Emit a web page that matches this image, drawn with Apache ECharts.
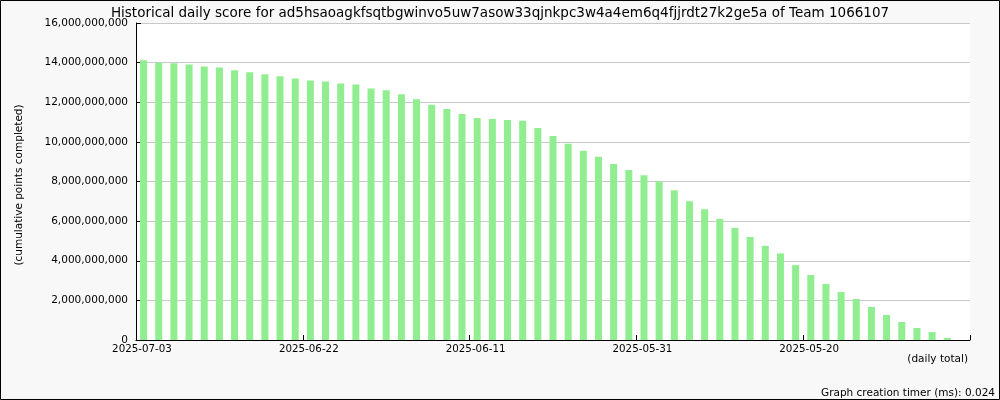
<!DOCTYPE html>
<html>
<head>
<meta charset="utf-8">
<script src="https://cdn.jsdelivr.net/npm/echarts@6/dist/echarts.min.js"></script>
<style>
html,body{margin:0;padding:0;background:#f8f8f8;}
#chart{width:1000px;height:400px;}
</style>
</head>
<body>
<div id="chart"></div>
<script>
// Dates (one per bar, newest first)
var dates = [
"2025-07-03","2025-07-02","2025-07-01","2025-06-30","2025-06-29","2025-06-28","2025-06-27","2025-06-26","2025-06-25","2025-06-24",
"2025-06-23","2025-06-22","2025-06-21","2025-06-20","2025-06-19","2025-06-18","2025-06-17","2025-06-16","2025-06-15","2025-06-14",
"2025-06-13","2025-06-12","2025-06-11","2025-06-10","2025-06-09","2025-06-08","2025-06-07","2025-06-06","2025-06-05","2025-06-04",
"2025-06-03","2025-06-02","2025-06-01","2025-05-31","2025-05-30","2025-05-29","2025-05-28","2025-05-27","2025-05-26","2025-05-25",
"2025-05-24","2025-05-23","2025-05-22","2025-05-21","2025-05-20","2025-05-19","2025-05-18","2025-05-17","2025-05-16","2025-05-15",
"2025-05-14","2025-05-13","2025-05-12","2025-05-11","2025-05-10"
];
// Cumulative score (billions of points)
var scoresB = [
14.12,14.00,13.97,13.91,13.81,13.76,13.61,13.51,13.41,13.31,
13.20,13.10,13.05,12.95,12.90,12.70,12.60,12.40,12.15,11.88,
11.66,11.41,11.21,11.16,11.11,11.06,10.70,10.30,9.90,9.55,
9.25,8.88,8.58,8.32,8.00,7.56,7.00,6.60,6.11,5.66,
5.20,4.75,4.37,3.78,3.28,2.83,2.42,2.07,1.67,1.26,
0.91,0.61,0.40,0.10,0
];
var yTicks = [0,2e9,4e9,6e9,8e9,10e9,12e9,14e9,16e9];
var labelEvery = 11;
var titleText = "Historical daily score for ad5hsaoagkfsqtbgwinvo5uw7asow33qjnkpc3w4a4em6q4fjjrdt27k2ge5a of Team 1066107";

var barData = scoresB.map(function(v,i){ return [i + 0.5, v * 1e9]; });
var FONT = "DejaVu Sans";

var chart = echarts.init(document.getElementById('chart'), null, {renderer:'canvas'});
chart.setOption({
  backgroundColor: '#f8f8f8',
  animation: false,
  title: {
    text: titleText, left: 'center', top: 1,
    textStyle: {fontFamily: FONT, fontSize: 13.5, fontWeight: 'normal', color: '#000'}
  },
  grid: {left: 136, right: 30, top: 23, bottom: 60, show: true, backgroundColor: '#fff', borderWidth: 0},
  xAxis: {
    type: 'value', min: 0, max: dates.length, interval: labelEvery / 2,
    axisLine: {show: true, lineStyle: {color: '#000', width: 1}},
    axisTick: {show: true, inside: true, length: 5, lineStyle: {color: '#000'}},
    splitLine: {show: false},
    axisLabel: {
      fontFamily: FONT, fontSize: 10.3, color: '#000', margin: 4, showMaxLabel: true,
      padding: [0, 0, 0, 12],
      formatter: function(v){
        var r = Math.round(v);
        if (Math.abs(v - r) < 1e-6 && r % labelEvery === 0 && r < dates.length) return dates[r];
        return '';
      }
    }
  },
  yAxis: {
    type: 'value', min: yTicks[0], max: yTicks[yTicks.length-1], interval: yTicks[1]-yTicks[0],
    axisLine: {show: true, lineStyle: {color: '#000', width: 1}},
    axisTick: {show: true, inside: true, length: 5, lineStyle: {color: '#000'}},
    splitLine: {show: true, lineStyle: {color: '#c8c8c8', width: 1}},
    axisLabel: {
      fontFamily: FONT, fontSize: 10.5, color: '#000', margin: 8,
      formatter: function(v){ return Math.round(v).toString().replace(/\B(?=(\d{3})+(?!\d))/g, ','); }
    }
  },
  series: [{
    type: 'bar', data: barData, barWidth: 7,
    itemStyle: {color: '#90ee90'}
  }],
  graphic: [
    {type: 'text', x: 19, y: 185, rotation: Math.PI/2, z: 10,
     style: {text: '(cumulative points completed)', fontFamily: FONT, fontSize: 10.5, fill: '#000',
             align: 'center', verticalAlign: 'middle'}},
    {type: 'text', right: 32, top: 354,
     style: {text: '(daily total)', fontFamily: FONT, fontSize: 10.5, fill: '#000'}},
    {type: 'text', right: 5, top: 388,
     style: {text: 'Graph creation timer (ms): 0.024', fontFamily: FONT, fontSize: 10.5, fill: '#000'}},
    {type: 'rect', shape: {x: 0.5, y: 0.5, width: 999, height: 399}, z: 100,
     style: {fill: 'none', stroke: '#000', lineWidth: 1}}
  ]
});
</script>
</body>
</html>
